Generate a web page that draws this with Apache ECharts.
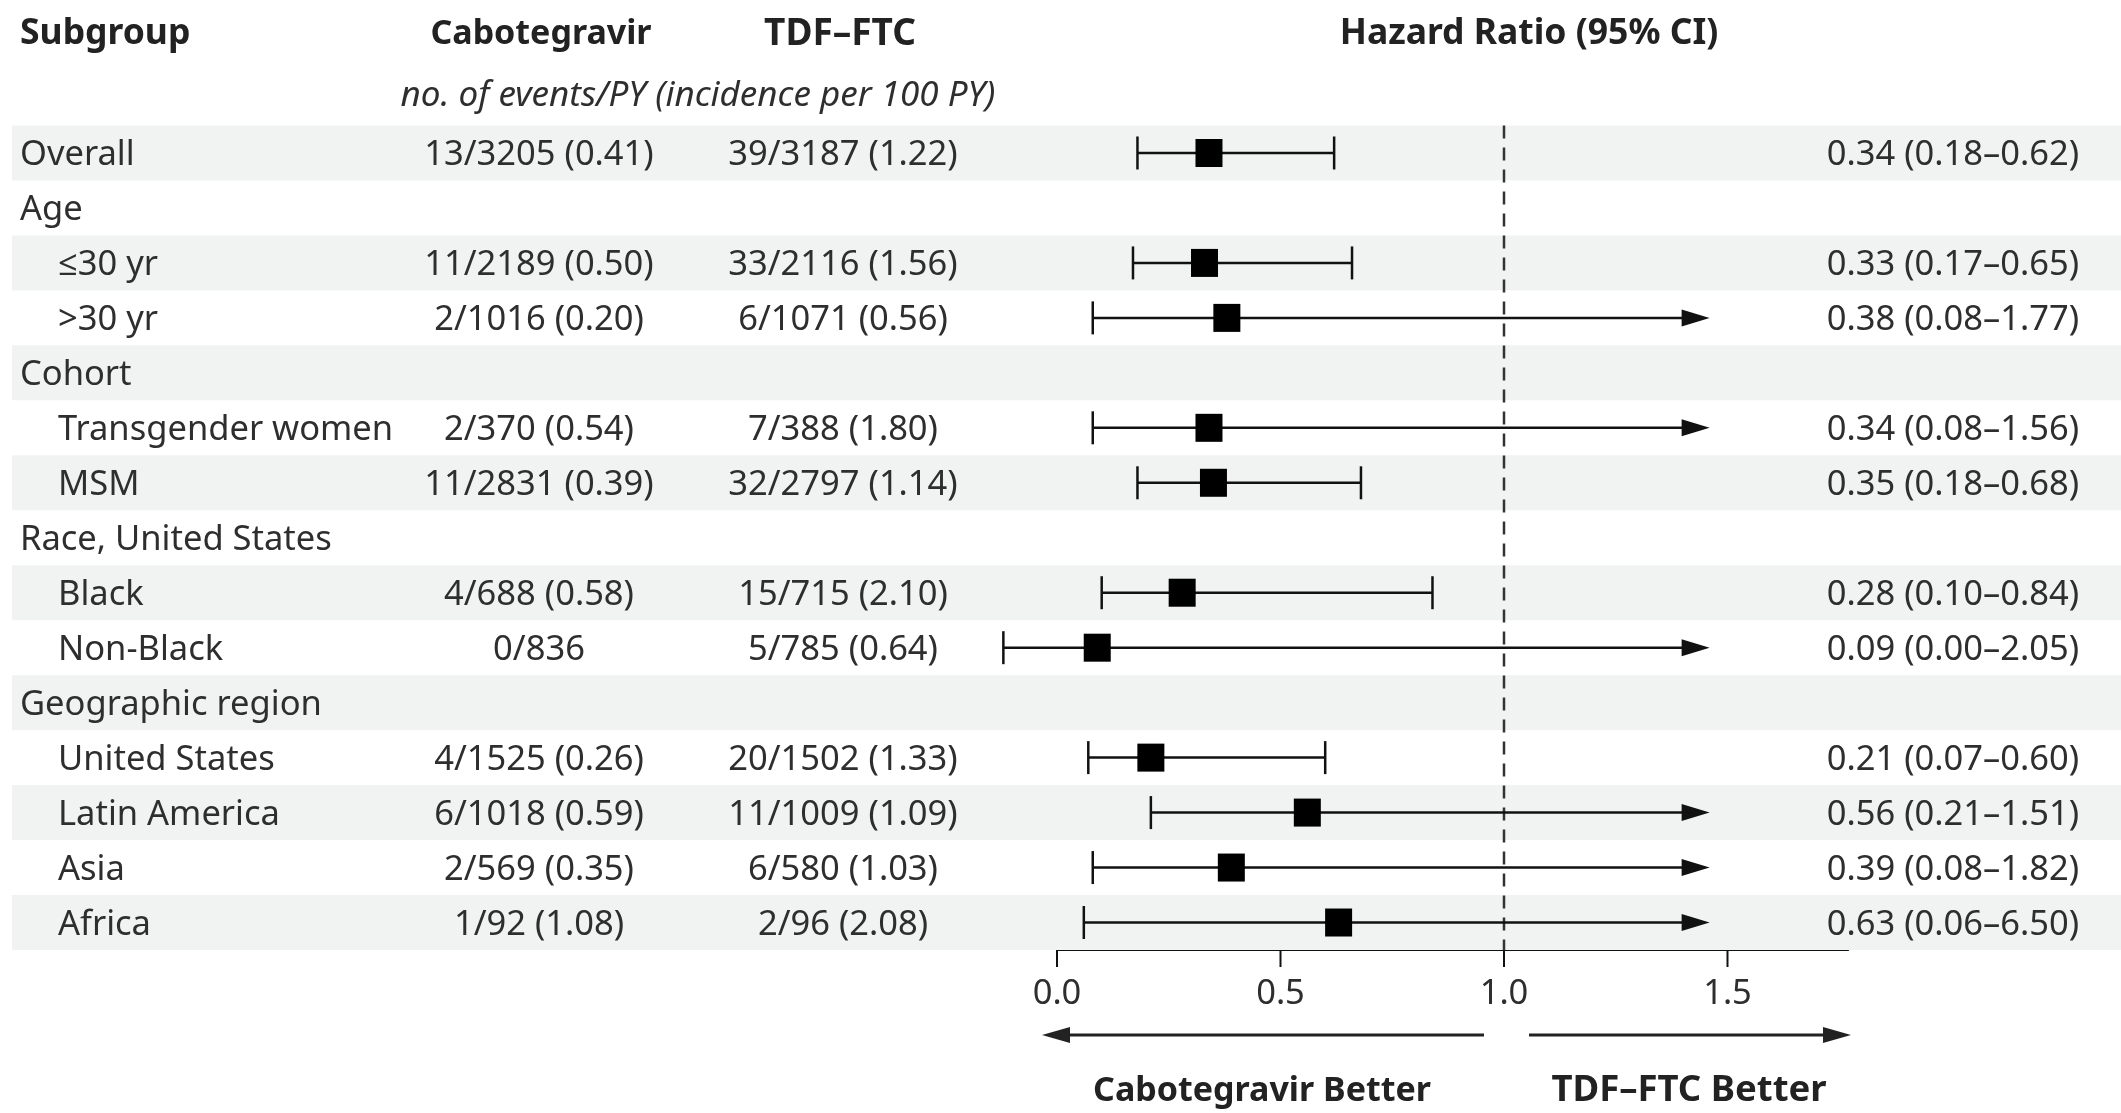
<!DOCTYPE html>
<html><head><meta charset="utf-8">
<script src="https://cdn.jsdelivr.net/npm/echarts@6/dist/echarts.min.js"></script>
<style>html,body{margin:0;padding:0;background:#fff}#c{width:2121px;height:1113px}</style>
</head><body><div id="c"></div>
<script>
// ---------------- data ----------------
const subgroups = ['Overall','Age','≤30 yr','>30 yr','Cohort','Transgender women','MSM','Race, United States','Black','Non-Black','Geographic region','United States','Latin America','Asia','Africa'];
const indentLevel = [0,0,1,1,0,1,1,0,1,1,0,1,1,1,1];
const caboText = ['13/3205 (0.41)','','11/2189 (0.50)','2/1016 (0.20)','','2/370 (0.54)','11/2831 (0.39)','','4/688 (0.58)','0/836','','4/1525 (0.26)','6/1018 (0.59)','2/569 (0.35)','1/92 (1.08)'];
const tdfText = ['39/3187 (1.22)','','33/2116 (1.56)','6/1071 (0.56)','','7/388 (1.80)','32/2797 (1.14)','','15/715 (2.10)','5/785 (0.64)','','20/1502 (1.33)','11/1009 (1.09)','6/580 (1.03)','2/96 (2.08)'];
const hazardRatio = [0.34,null,0.33,0.38,null,0.34,0.35,null,0.28,0.09,null,0.21,0.56,0.39,0.63];
// lower bounds as plotted in the figure (Non-Black's 0.00 is drawn left of the 0.0 tick)
const ciLower = [0.18,null,0.17,0.08,null,0.08,0.18,null,0.10,-0.12,null,0.07,0.21,0.08,0.06];
const ciUpper = [0.62,null,0.66,1.77,null,1.56,0.68,null,0.84,2.05,null,0.60,1.51,1.82,6.50];
const hrLabel = ['0.34 (0.18–0.62)','','0.33 (0.17–0.65)','0.38 (0.08–1.77)','','0.34 (0.08–1.56)','0.35 (0.18–0.68)','','0.28 (0.10–0.84)','0.09 (0.00–2.05)','','0.21 (0.07–0.60)','0.56 (0.21–1.51)','0.39 (0.08–1.82)','0.63 (0.06–6.50)'];
const xTicks = [0, 0.5, 1.0, 1.5];
const axisMax = 1.77;      // end of the drawn axis line
const arrowCap = 1.46;     // where truncated intervals end in an arrow
const refValue = 1.0;

// ---------------- chart ----------------
const FONT = "'Noto Sans', 'Open Sans', sans-serif";
const TXT = '#2e2e2e';
const HEAD = '#222';
const INK = '#111';
const BAND = '#f1f3f3';
const FS = 34.5;
const FSB = 35.5;
const TY = 2.5; // baseline nudge for row text

const rows = subgroups.map((s, i) => [0, i]);
const ciData = hazardRatio.map((v, i) => [v, i, ciLower[i], ciUpper[i]]);

const chart = echarts.init(document.getElementById('c'), null, {renderer: 'canvas'});
const boldText = (x, y, text, align, size) => ({type: 'text', x, y, style: {text, fill: HEAD, fontSize: size || FSB, fontWeight: 'bold', fontFamily: FONT, verticalAlign: 'middle', align}});
chart.setOption({
  animation: false,
  backgroundColor: '#fff',
  grid: {left: 1057, top: 125.5, width: 447 * axisMax, height: 824.5, containLabel: false},
  xAxis: {
    type: 'value', min: 0, max: axisMax, interval: 0.5,
    splitLine: {show: false},
    axisLine: {show: true, lineStyle: {color: INK, width: 2}},
    axisTick: {show: false},
    axisLabel: {
      margin: 27, color: TXT, fontSize: FS, fontFamily: FONT,
      showMaxLabel: false,
      formatter: v => xTicks.some(t => Math.abs(t - v) < 1e-6) ? v.toFixed(1) : ''
    }
  },
  yAxis: {type: 'category', inverse: true, data: subgroups, show: false},
  series: [
    { // alternating row bands
      type: 'custom', z: 1, silent: true,
      data: rows,
      renderItem: (params, api) => {
        const i = api.value(1);
        if (i % 2 !== 0) return null;
        const y = api.coord([0, i])[1];
        const h = api.size([0, 1])[1];
        return {type: 'rect', shape: {x: 12, y: y - h / 2, width: 2121 - 12, height: h}, style: {fill: BAND}};
      }
    },
    { // text columns
      type: 'custom', z: 5, silent: true,
      data: rows,
      renderItem: (params, api) => {
        const i = api.value(1);
        const y = api.coord([0, i])[1] + TY;
        const base = {fill: TXT, fontSize: FS, fontFamily: FONT, verticalAlign: 'middle'};
        return {type: 'group', children: [
          {type: 'text', x: indentLevel[i] ? 58 : 20, y: y, style: Object.assign({text: subgroups[i], align: 'left'}, base)},
          {type: 'text', x: 539, y: y, style: Object.assign({text: caboText[i], align: 'center'}, base)},
          {type: 'text', x: 843, y: y, style: Object.assign({text: tdfText[i], align: 'center'}, base)},
          {type: 'text', x: 2079, y: y, style: Object.assign({text: hrLabel[i], align: 'right'}, base)}
        ]};
      }
    },
    { // reference dashed line + ticks
      type: 'custom', z: 3, silent: true,
      data: xTicks.map(t => [t]),
      encode: {x: 0},
      renderItem: (params, api) => {
        const cs = params.coordSys;
        const t = api.value(0);
        const x = api.coord([t, 0])[0];
        const bottom = cs.y + cs.height;
        const children = [{type: 'line', shape: {x1: x, y1: bottom, x2: x, y2: bottom + 17}, style: {stroke: INK, lineWidth: 2}}];
        if (Math.abs(t - refValue) < 1e-9) {
          children.push({type: 'line', shape: {x1: x, y1: cs.y, x2: x, y2: bottom},
            style: {stroke: '#333', lineWidth: 2.5, lineDash: [13, 9]}});
        }
        return {type: 'group', children};
      }
    },
    { // confidence intervals and point estimates
      type: 'custom', z: 10, silent: true,
      data: ciData,
      encode: {x: 0, y: 1},
      renderItem: (params, api) => {
        const i = api.value(1);
        if (hazardRatio[i] == null) return null;
        const y = api.coord([0, i])[1];
        const xL = api.coord([ciLower[i], i])[0];
        const arrow = ciUpper[i] > arrowCap;
        const xH = api.coord([Math.min(ciUpper[i], arrowCap), i])[0];
        const xP = api.coord([hazardRatio[i], i])[0];
        const ls = {stroke: INK, lineWidth: 2.5};
        const ch = [
          {type: 'line', shape: {x1: xL, y1: y, x2: arrow ? xH - 26 : xH, y2: y}, style: ls},
          {type: 'line', shape: {x1: xL, y1: y - 16.5, x2: xL, y2: y + 16.5}, style: ls}
        ];
        if (arrow) {
          ch.push({type: 'polygon', shape: {points: [[xH, y], [xH - 28, y - 8.5], [xH - 28, y + 8.5]]}, style: {fill: INK}});
        } else {
          ch.push({type: 'line', shape: {x1: xH, y1: y - 16.5, x2: xH, y2: y + 16.5}, style: ls});
        }
        ch.push({type: 'rect', shape: {x: xP - 13.5, y: y - 14, width: 27, height: 28}, style: {fill: '#000'}});
        return {type: 'group', children: ch};
      }
    }
  ],
  graphic: [
    boldText(20, 34, 'Subgroup', 'left'),
    boldText(541, 34, 'Cabotegravir', 'center', 34),
    boldText(840, 34, 'TDF–FTC', 'center', 37),
    boldText(1529, 34, 'Hazard Ratio (95% CI)', 'center'),
    {type: 'text', x: 698, y: 96, style: {text: 'no. of events/PY (incidence per 100 PY)', fill: TXT, fontSize: 35, fontStyle: 'italic', fontFamily: FONT, verticalAlign: 'middle', align: 'center'}},
    boldText(1262, 1091, 'Cabotegravir Better', 'center', 34),
    boldText(1689, 1091, 'TDF–FTC Better', 'center', 36.5),
    {type: 'line', shape: {x1: 1484, y1: 1035, x2: 1066, y2: 1035}, style: {stroke: '#222', lineWidth: 3}},
    {type: 'polygon', shape: {points: [[1042, 1035], [1070, 1027], [1070, 1043]]}, style: {fill: '#222'}},
    {type: 'line', shape: {x1: 1529, y1: 1035, x2: 1826, y2: 1035}, style: {stroke: '#222', lineWidth: 3}},
    {type: 'polygon', shape: {points: [[1851, 1035], [1823, 1027], [1823, 1043]]}, style: {fill: '#222'}}
  ]
});
</script></body></html>
